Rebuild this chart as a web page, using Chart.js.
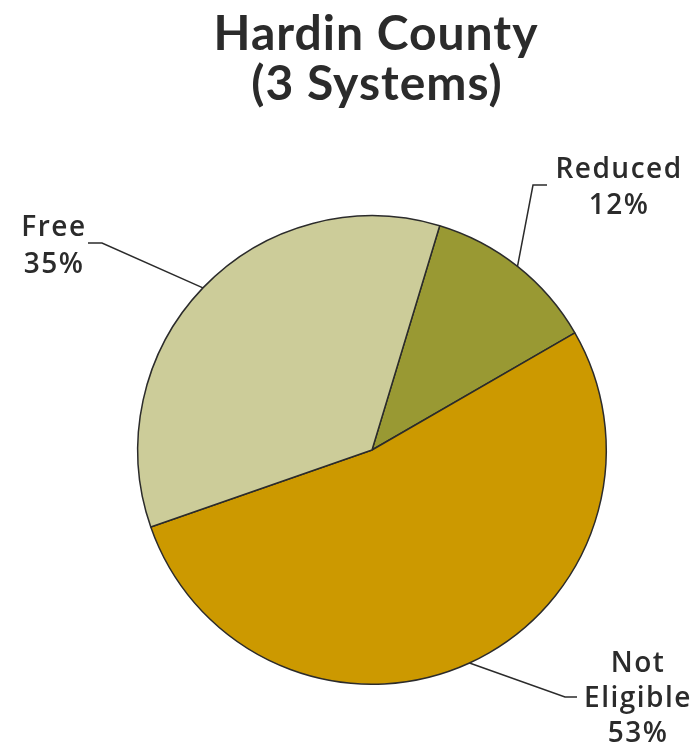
<!DOCTYPE html>
<html>
<head>
<meta charset="utf-8">
<script src="https://cdn.jsdelivr.net/npm/chart.js@4/dist/chart.umd.min.js"></script>
<style>
  html, body { margin: 0; padding: 0; background: #fff; }
  #wrap { width: 696px; height: 749px; }
</style>
</head>
<body>
<div id="wrap"><canvas id="pie"></canvas></div>
<script>
// Data
const titleLines = ['Hardin County', '(3 Systems)'];
const categories = ['Reduced', 'Not Eligible', 'Free'];
const percents = [12, 53, 35];
const sliceColors = ['#999933', '#CC9900', '#CCCC99'];

// where each label sits (text baselines, elbow of the leader line)
const labelStyle = {
  'Reduced':      { lines: ['Reduced', '12%'], x: 619, y: [178, 214], elbow: [533, 185], end: [547, 185] },
  'Not Eligible': { lines: ['Not', 'Eligible', '53%'], x: 638, y: [672, 707, 742], elbow: [565, 697], end: [577, 697] },
  'Free':         { lines: ['Free', '35%'], x: 54, y: [236, 273], elbow: [102, 243], end: [88, 243] }
};

const textColor = '#2b2b2b';

// Title + leader-line labels
const labelsPlugin = {
  id: 'pieLabels',
  afterDraw(chart) {
    const ctx = chart.ctx;
    ctx.save();
    ctx.fillStyle = textColor;
    ctx.textAlign = 'center';
    ctx.textBaseline = 'alphabetic';
    ctx.font = 'bold 48px Lato, sans-serif';
    ctx.letterSpacing = '1px';
    ctx.fillText(titleLines[0], 376, 50);
    ctx.fillText(titleLines[1], 377, 100);

    const meta = chart.getDatasetMeta(0);
    meta.data.forEach((arc, i) => {
      const st = labelStyle[categories[i]];
      const mid = (arc.startAngle + arc.endAngle) / 2;
      const sx = arc.x + Math.cos(mid) * arc.outerRadius;
      const sy = arc.y + Math.sin(mid) * arc.outerRadius;
      ctx.strokeStyle = textColor;
      ctx.lineWidth = 1.5;
      ctx.beginPath();
      ctx.moveTo(sx, sy);
      ctx.lineTo(st.elbow[0], st.elbow[1]);
      ctx.lineTo(st.end[0], st.end[1]);
      ctx.stroke();
      ctx.font = '600 28px "Open Sans", sans-serif';
      ctx.letterSpacing = '1.5px';
      st.lines.forEach((t, k) => ctx.fillText(t, st.x, st.y[k]));
    });
    ctx.restore();
  }
};

new Chart(document.getElementById('pie'), {
  type: 'pie',
  data: {
    labels: categories,
    datasets: [{
      data: percents,
      backgroundColor: sliceColors,
      borderColor: textColor,
      borderWidth: 1.5
    }]
  },
  options: {
    responsive: true,
    maintainAspectRatio: false,
    animation: false,
    rotation: 16.8,
    layout: { padding: { left: 137, right: 89, top: 215, bottom: 64 } },
    plugins: {
      legend: { display: false },
      tooltip: { enabled: false },
      title: { display: false }
    }
  },
  plugins: [labelsPlugin]
});
</script>
</body>
</html>
